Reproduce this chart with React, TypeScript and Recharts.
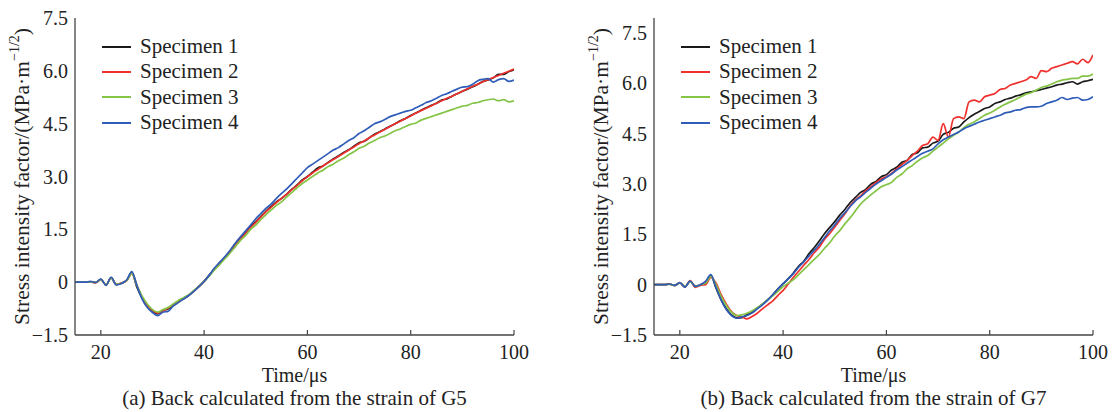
import { LineChart, Line, XAxis, YAxis, Legend } from 'recharts'

const times = [
  15, 16, 17, 18, 19, 20, 21, 22, 23, 24,
  25, 26, 27, 28, 29, 30, 31, 32, 33, 34,
  35, 36, 37, 38, 39, 40, 41, 42, 43, 44,
  45, 46, 47, 48, 49, 50, 51, 52, 53, 54,
  55, 56, 57, 58, 59, 60, 61, 62, 63, 64,
  65, 66, 67, 68, 69, 70, 71, 72, 73, 74,
  75, 76, 77, 78, 79, 80, 81, 82, 83, 84,
  85, 86, 87, 88, 89, 90, 91, 92, 93, 94,
  95, 96, 97, 98, 99, 100,
]

// (a) G5
const g5Specimen1 = [
  0, 0, 0, 0.01, -0.01, 0.08, -0.08, 0.13, -0.07, -0.03,
  0.05, 0.27, -0.15, -0.45, -0.68, -0.82, -0.9, -0.8, -0.76, -0.66,
  -0.55, -0.47, -0.38, -0.25, -0.12, 0.03, 0.2, 0.38, 0.55, 0.7,
  0.88, 1.08, 1.25, 1.4, 1.58, 1.72, 1.87, 2.02, 2.15, 2.28,
  2.38, 2.5, 2.64, 2.76, 2.9, 3.0, 3.12, 3.24, 3.3, 3.4,
  3.5, 3.58, 3.68, 3.76, 3.86, 3.96, 4.0, 4.1, 4.2, 4.27,
  4.35, 4.43, 4.5, 4.58, 4.65, 4.73, 4.8, 4.88, 4.95, 5.02,
  5.08, 5.17, 5.2, 5.28, 5.35, 5.42, 5.48, 5.55, 5.62, 5.7,
  5.74, 5.8, 5.9, 5.9, 5.98, 6.03,
]
const g5Specimen2 = [
  0, 0, 0, 0.01, -0.02, 0.07, -0.07, 0.12, -0.06, -0.02,
  0.04, 0.25, -0.1, -0.42, -0.66, -0.8, -0.88, -0.82, -0.74, -0.65,
  -0.56, -0.46, -0.37, -0.26, -0.13, 0.02, 0.19, 0.36, 0.53, 0.69,
  0.86, 1.05, 1.22, 1.38, 1.55, 1.7, 1.85, 2.0, 2.13, 2.26,
  2.38, 2.5, 2.63, 2.75, 2.88, 2.99, 3.1, 3.2, 3.3, 3.39,
  3.48, 3.57, 3.66, 3.75, 3.84, 3.93, 4.01, 4.1, 4.18, 4.26,
  4.34, 4.42, 4.5, 4.57, 4.65, 4.72, 4.8, 4.87, 4.94, 5.01,
  5.08, 5.15, 5.22, 5.28, 5.35, 5.42, 5.49, 5.56, 5.62, 5.69,
  5.75, 5.81, 5.87, 5.93, 5.99, 6.05,
]
const g5Specimen3 = [
  0, 0, 0, 0.01, -0.01, 0.07, -0.07, 0.12, -0.06, -0.03,
  0.04, 0.25, -0.1, -0.4, -0.62, -0.78, -0.85, -0.78, -0.72, -0.62,
  -0.52, -0.44, -0.36, -0.24, -0.12, 0.02, 0.18, 0.35, 0.5, 0.66,
  0.82, 1.0, 1.18, 1.32, 1.5, 1.62, 1.78, 1.92, 2.05, 2.18,
  2.28, 2.42, 2.55, 2.68, 2.8, 2.9, 3.0, 3.1, 3.18, 3.28,
  3.35, 3.45, 3.52, 3.62, 3.7, 3.8, 3.86, 3.95, 4.02, 4.1,
  4.15, 4.22, 4.3, 4.35, 4.42, 4.48, 4.52, 4.6, 4.65, 4.7,
  4.75, 4.8, 4.85, 4.9, 4.95, 5.0, 5.02, 5.08, 5.1, 5.15,
  5.18, 5.2, 5.15, 5.18, 5.12, 5.15,
]
const g5Specimen4 = [
  0, 0, 0, 0.02, -0.01, 0.09, -0.09, 0.14, -0.08, -0.04,
  0.06, 0.3, -0.1, -0.48, -0.72, -0.86, -0.95, -0.85, -0.83, -0.68,
  -0.58, -0.48, -0.38, -0.26, -0.12, 0.02, 0.2, 0.4, 0.56, 0.72,
  0.9, 1.1, 1.28, 1.45, 1.62, 1.8, 1.95, 2.1, 2.22, 2.38,
  2.52, 2.65, 2.8, 2.95, 3.1, 3.25, 3.35, 3.45, 3.55, 3.65,
  3.75, 3.82, 3.92, 4.02, 4.1, 4.22, 4.3, 4.4, 4.5, 4.55,
  4.62, 4.7, 4.75, 4.8, 4.85, 4.88, 4.95, 5.02, 5.1, 5.15,
  5.22, 5.3, 5.35, 5.42, 5.48, 5.54, 5.55, 5.62, 5.72, 5.76,
  5.78, 5.68, 5.75, 5.78, 5.7, 5.74,
]

// (b) G7
const g7Specimen1 = [
  0, 0, 0, 0.02, -0.02, 0.05, -0.06, 0.1, -0.04, 0,
  0.08, 0.28, -0.1, -0.45, -0.72, -0.9, -0.99, -0.98, -0.9, -0.83,
  -0.7, -0.58, -0.45, -0.3, -0.12, 0.03, 0.18, 0.35, 0.55, 0.7,
  0.92, 1.1, 1.3, 1.52, 1.7, 1.88, 2.08, 2.25, 2.45, 2.6,
  2.75, 2.84, 3.0, 3.08, 3.22, 3.28, 3.42, 3.5, 3.65, 3.7,
  3.88, 3.93, 4.08, 4.1, 4.22, 4.28, 4.48, 4.54, 4.66, 4.7,
  4.85, 4.98, 5.08, 5.16, 5.25, 5.3, 5.4, 5.45, 5.52, 5.56,
  5.62, 5.66, 5.72, 5.75, 5.78, 5.82, 5.86, 5.9, 5.95, 5.98,
  6.02, 6.05, 5.98, 6.05, 6.08, 6.12,
]
const g7Specimen2 = [
  0, 0, 0, 0.02, -0.03, 0.06, -0.07, 0.12, -0.08, -0.02,
  0, 0.22, 0.05, -0.3, -0.58, -0.8, -0.92, -0.96, -1.02, -0.95,
  -0.85, -0.72, -0.6, -0.48, -0.32, -0.17, 0.02, 0.22, 0.4, 0.58,
  0.75, 0.95, 1.12, 1.35, 1.52, 1.72, 1.92, 2.12, 2.35, 2.52,
  2.65, 2.8, 2.92, 3.05, 3.15, 3.22, 3.32, 3.45, 3.58, 3.7,
  3.85, 3.98, 4.15, 4.2, 4.4, 4.3, 4.8, 4.4, 4.95, 5.0,
  4.95, 5.45, 5.5, 5.45, 5.6, 5.65, 5.7, 5.82, 5.85, 5.95,
  6.0, 6.05, 6.1, 6.2, 6.15, 6.38, 6.35, 6.45, 6.5, 6.55,
  6.6, 6.65, 6.58, 6.72, 6.62, 6.85,
]
const g7Specimen3 = [
  0, 0, 0, 0.01, -0.02, 0.05, -0.05, 0.09, -0.05, 0,
  0.05, 0.25, 0.0, -0.35, -0.62, -0.82, -0.92, -0.9, -0.85, -0.78,
  -0.68, -0.58, -0.45, -0.33, -0.2, -0.06, 0.05, 0.15, 0.3, 0.45,
  0.6, 0.75, 0.9, 1.08, 1.25, 1.45, 1.62, 1.82, 2.0, 2.2,
  2.4, 2.55, 2.68, 2.8, 2.92, 2.98, 3.05, 3.2, 3.3, 3.45,
  3.55, 3.68, 3.78, 3.85, 3.98, 4.1, 4.22, 4.35, 4.45, 4.55,
  4.68, 4.78, 4.85, 4.95, 5.05, 5.12, 5.2, 5.3, 5.38, 5.45,
  5.52, 5.6, 5.68, 5.72, 5.8, 5.88, 5.92, 5.98, 6.05, 6.1,
  6.12, 6.15, 6.15, 6.22, 6.22, 6.28,
]
const g7Specimen4 = [
  0, 0, 0, 0.02, -0.02, 0.06, -0.07, 0.11, -0.05, 0,
  0.1, 0.3, -0.08, -0.45, -0.74, -0.92, -1.0, -0.96, -0.92, -0.84,
  -0.72, -0.6, -0.46, -0.3, -0.13, 0.03, 0.18, 0.33, 0.52, 0.68,
  0.85, 1.02, 1.2, 1.4, 1.6, 1.78, 1.98, 2.15, 2.33, 2.5,
  2.62, 2.75, 2.88, 3.0, 3.1, 3.2, 3.3, 3.42, 3.52, 3.62,
  3.72, 3.82, 3.92, 3.98, 4.05, 4.2, 4.32, 4.4, 4.48, 4.55,
  4.65, 4.72, 4.78, 4.85, 4.9, 4.95, 5.0, 5.05, 5.12, 5.15,
  5.2, 5.22, 5.28, 5.3, 5.3, 5.32, 5.4, 5.45, 5.5, 5.58,
  5.52, 5.56, 5.58, 5.5, 5.52, 5.6,
]

const xTicks = [20, 40, 60, 80, 100]
const yTicks = [-1.5, 0, 1.5, 3.0, 4.5, 6.0, 7.5]
const specimenNames = ['Specimen 1', 'Specimen 2', 'Specimen 3', 'Specimen 4']
const colors = ['#1a1a1a', '#f0302c', '#84c446', '#2f5cb8']

const FONT = '"Liberation Serif", "Times New Roman", serif'
const AXIS = '#444'

const buildRows = (series: number[][]) =>
  times.map((t, i) => ({ t, s1: series[0][i], s2: series[1][i], s3: series[2][i], s4: series[3][i] }))

const fmtY = (v: number) => (v === 0 ? '0' : v < 0 ? '\u2212' + Math.abs(v).toFixed(1) : v.toFixed(1))

const XTick = ({ x, y, payload }: any) => (
  <g>
    <line x1={x} x2={x} y1={y} y2={y - 5} stroke={AXIS} strokeWidth={1.2} />
    <text x={x} y={y + 24} textAnchor="middle" fontFamily={FONT} fontSize={20} fill="#222">
      {payload.value}
    </text>
  </g>
)

const YTick = ({ x, y, payload }: any) => (
  <text x={x - 7} y={y + 7} textAnchor="end" fontFamily={FONT} fontSize={20} fill="#222">
    {fmtY(payload.value)}
  </text>
)

const renderLegend = () => (
  <div style={{ fontFamily: FONT, fontSize: 21, color: '#222' }}>
    {specimenNames.map((name, i) => (
      <div key={name} style={{ display: 'flex', alignItems: 'center', height: 25.3 }}>
        <span style={{ width: 29, borderTop: `2px solid ${colors[i]}`, marginRight: 9 }} />
        <span>{name}</span>
      </div>
    ))}
  </div>
)

function Panel({ data, yMax, caption, left }: { data: any[]; yMax: number; caption: string; left: number }) {
  return (
    <div style={{ position: 'absolute', left, top: 0 }}>
      <LineChart width={530} height={412} data={data} margin={{ top: 18, right: 16, left: 0, bottom: 47 }}>
        <XAxis
          dataKey="t"
          type="number"
          domain={[15, 100]}
          ticks={xTicks}
          allowDataOverflow
          height={30}
          tickSize={0}
          tickMargin={0}
          tickLine={false}
          axisLine={{ stroke: AXIS, strokeWidth: 1.3 }}
          tick={(p: any) => <XTick {...p} />}
          label={{
            content: ({ viewBox }: any) => (
              <g fontFamily={FONT} fill="#222">
                <text x={viewBox.x + viewBox.width / 2} y={viewBox.y + 47} textAnchor="middle" fontSize={20}>
                  Time/μs
                </text>
                <text x={viewBox.x + viewBox.width / 2} y={viewBox.y + 70} textAnchor="middle" fontSize={21}>
                  {caption}
                </text>
              </g>
            ),
          }}
        />
        <XAxis xAxisId="top" orientation="top" dataKey="t" type="number" domain={[15, 100]} height={0} tick={false} tickLine={false} axisLine={{ stroke: AXIS, strokeWidth: 1.3 }} />
        <YAxis
          type="number"
          domain={[-1.5, yMax]}
          ticks={yTicks}
          allowDataOverflow
          width={75}
          tickSize={0}
          tickMargin={0}
          tickLine={false}
          axisLine={{ stroke: AXIS, strokeWidth: 1.3 }}
          tick={(p: any) => <YTick {...p} />}
          label={{
            content: ({ viewBox }: any) => {
              const cx = viewBox.x + 22
              const cy = viewBox.y + viewBox.height / 2
              return (
                <text x={cx} y={cy} transform={`rotate(-90 ${cx} ${cy})`} textAnchor="middle" dominantBaseline="central" fontFamily={FONT} fontSize={21.5} fill="#222">
                  Stress intensity factor/(MPa·m
                  <tspan dy={-8} fontSize={14}>−1/2</tspan>
                  <tspan dy={8}>)</tspan>
                </text>
              )
            },
          }}
        />
        <YAxis yAxisId="right" orientation="right" domain={[-1.5, yMax]} width={0} tick={false} tickLine={false} axisLine={{ stroke: AXIS, strokeWidth: 1.3 }} />
        <Legend
          layout="vertical"
          align="center"
          verticalAlign="middle"
          content={renderLegend}
          wrapperStyle={{ top: 34, left: 102, width: 'auto' }}
        />
        {['s1', 's2', 's3', 's4'].map((k, i) => (
          <Line
            key={k}
            type="monotone"
            dataKey={k}
            name={specimenNames[i]}
            stroke={colors[i]}
            strokeWidth={1.7}
            dot={false}
            isAnimationActive={false}
          />
        ))}
      </LineChart>
    </div>
  )
}

export default function App() {
  const left = buildRows([g5Specimen1, g5Specimen2, g5Specimen3, g5Specimen4])
  const right = buildRows([g7Specimen1, g7Specimen2, g7Specimen3, g7Specimen4])
  return (
    <div style={{ position: 'absolute', left: 0, top: 0, width: 1114, height: 412, background: '#fff' }}>
      <Panel data={left} yMax={7.5} left={0} caption="(a) Back calculated from the strain of G5" />
      <Panel data={right} yMax={7.95} left={579} caption="(b) Back calculated from the strain of G7" />
    </div>
  )
}
